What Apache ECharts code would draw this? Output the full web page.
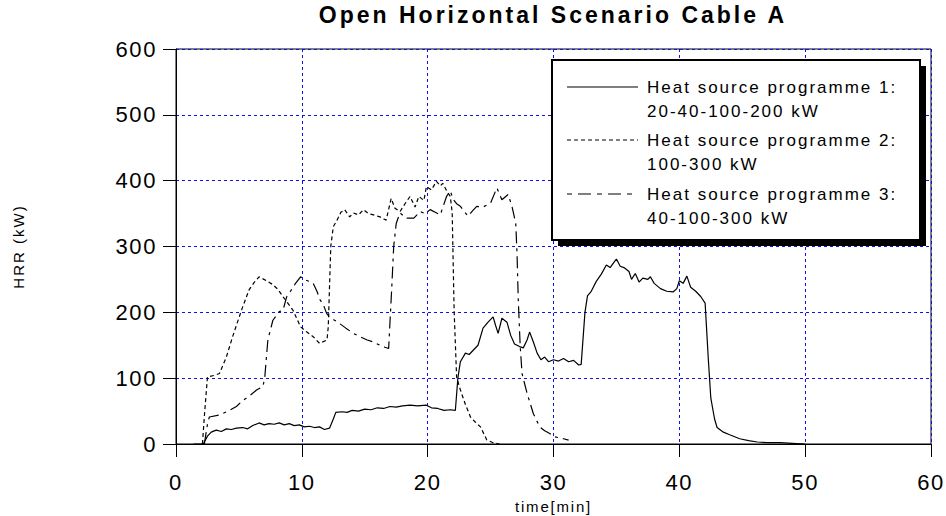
<!DOCTYPE html>
<html>
<head>
<meta charset="utf-8">
<script src="https://cdn.jsdelivr.net/npm/echarts@6/dist/echarts.min.js"></script>
<style>
  html, body { margin: 0; padding: 0; background: #fff; }
  #chart { width: 946px; height: 516px; }
</style>
</head>
<body>
<div id="chart"></div>
<script>
// Heat release rate (kW) against time (min) for three heat source programmes
const titleText = 'Open Horizontal Scenario Cable A';
const xName = 'time[min]';
const yName = 'HRR (kW)';
const xTicks = [0, 10, 20, 30, 40, 50, 60];
const yTicks = [0, 100, 200, 300, 400, 500, 600];

const seriesNames = [
  ['Heat source programme 1:', '20-40-100-200 kW'],
  ['Heat source programme 2:', '100-300 kW'],
  ['Heat source programme 3:', '40-100-300 kW']
];

// programme 1: 20-40-100-200 kW
const prog1 = [
  [1.4,0],[2.0,0],[2.2,1],[2.5,12],[2.8,18],[3.2,21],[3.6,19],[4.0,23],[4.4,22],[4.8,24],
  [5.3,25],[5.7,23],[6.1,28],[6.6,32],[7.0,29],[7.4,31],[7.8,30],[8.2,32],[8.6,29],[9.0,31],
  [9.4,28],[9.8,29],[10.2,26],[10.6,27],[11.0,25],[11.4,26],[11.8,22],[12.2,24],[12.5,38],[12.7,48],
  [13.2,49],[13.6,48],[14.0,51],[14.5,50],[15.0,53],[15.5,52],[16.0,55],[16.5,54],[17.0,57],[17.5,56],
  [18.0,58],[18.6,59],[19.2,58],[19.9,59],[20.3,55],[20.8,54],[21.3,51],[21.8,52],[22.2,51],[22.4,100],
  [22.6,125],[23.0,138],[23.3,136],[23.6,142],[24.0,150],[24.4,176],[24.8,185],[25.2,193],[25.4,180],[25.6,168],
  [25.9,191],[26.3,185],[26.6,165],[26.9,152],[27.3,148],[27.6,146],[27.9,158],[28.1,170],[28.4,155],[28.7,138],
  [29.0,128],[29.3,132],[29.6,125],[30.0,128],[30.4,126],[30.8,130],[31.2,125],[31.6,127],[32.0,120],[32.2,121],
  [32.5,200],[32.7,225],[33.0,232],[33.4,247],[33.8,258],[34.2,272],[34.5,268],[34.8,276],[35.0,281],[35.3,270],
  [35.6,268],[36.0,262],[36.2,250],[36.5,259],[36.8,246],[37.1,252],[37.5,250],[37.7,254],[38.0,244],[38.5,236],
  [39.0,232],[39.5,231],[39.8,236],[40.0,248],[40.3,244],[40.6,255],[40.9,238],[41.3,232],[41.7,224],[42.05,214],
  [42.3,130],[42.5,70],[42.8,38],[43.0,25],[43.5,18],[44.0,14],[44.8,8],[45.5,5],[46.2,3],[47.0,2],
  [48.0,2],[49.0,1],[50.0,0]
];

// programme 2: 100-300 kW
const prog2 = [
  [2.1,0],[2.25,41],[2.5,102],[3.0,104],[3.45,107],[4.0,132],[4.5,163],[5.2,203],[5.8,234],[6.2,245],
  [6.6,254],[7.2,248],[7.7,242],[8.1,235],[8.5,224],[9.3,203],[9.9,178],[10.4,170],[10.9,163],[11.4,153],
  [12.0,158],[12.1,178],[12.3,300],[12.5,330],[12.8,340],[13.1,352],[13.4,356],[13.8,345],[14.1,351],[14.5,348],
  [14.9,356],[15.3,350],[15.7,348],[16.2,345],[16.7,340],[17.1,373],[17.4,358],[17.8,353],[18.2,365],[18.6,376],
  [19.0,360],[19.3,376],[19.7,370],[19.9,391],[20.3,386],[20.7,399],[21.0,392],[21.2,396],[21.5,385],[21.8,376],
  [21.95,351],[22.1,204],[22.3,102],[22.6,82],[23.0,60],[23.4,41],[23.8,33],[24.2,26],[24.7,6],[25.2,2],
  [25.7,0]
];

// programme 3: 40-100-300 kW
const prog3 = [
  [2.25,0],[2.5,30],[2.65,41],[3.45,44],[4.25,51],[4.8,57],[5.3,66],[5.9,74],[6.4,82],[6.9,87],
  [7.05,100],[7.2,135],[7.3,158],[7.7,188],[8.2,201],[8.5,203],[8.8,224],[9.1,232],[9.5,244],[9.9,254],
  [10.3,249],[10.6,247],[10.9,244],[11.2,232],[11.45,219],[11.7,212],[11.98,198],[12.2,193],[12.6,188],[13.0,183],
  [13.5,176],[14.1,168],[14.6,163],[15.2,158],[15.7,155],[16.2,150],[16.6,147],[16.9,145],[17.0,183],[17.15,239],
  [17.3,300],[17.5,335],[17.8,351],[18.3,343],[18.9,343],[19.4,353],[19.8,350],[20.2,356],[20.6,352],[21.0,348],
  [21.5,376],[21.8,384],[22.05,371],[22.3,365],[22.6,361],[23.2,346],[23.6,355],[23.9,361],[24.4,360],[25.0,366],
  [25.5,389],[25.9,371],[26.4,379],[26.7,361],[27.0,335],[27.1,290],[27.2,219],[27.35,150],[27.5,107],[27.9,77],
  [28.4,46],[28.9,26],[29.3,20],[29.7,16],[30.1,11],[30.8,8],[31.2,6]
];

const FONT = "'Liberation Sans', Arial, sans-serif";
const dashes = ['solid', [4, 3], [12, 5, 3, 5]];
const legendDashes = [null, [4, 3], [5, 6, 13, 6]];

const chart = echarts.init(document.getElementById('chart'), null, { renderer: 'svg' });

function gridLine() {
  return { show: true, lineStyle: { color: '#0f0fe8', width: 1, type: [3, 3] } };
}

const series = [prog1, prog2, prog3].map((d, i) => ({
  name: seriesNames[i].join(' '),
  type: 'line',
  data: d,
  symbol: 'none',
  animation: false,
  lineStyle: { color: '#000', width: 1.2, type: dashes[i] },
  z: 3
}));

// legend panel: white note box with a solid drop shadow
const lgX = 552, lgY = 60, lgW = 368, lgH = 180;
const legendItems = [
  { type: 'rect', shape: { x: lgX + 6, y: lgY + 6, width: lgW, height: lgH }, style: { fill: '#000' }, z: 10 },
  { type: 'rect', shape: { x: lgX, y: lgY, width: lgW, height: lgH }, style: { fill: '#fff', stroke: '#000', lineWidth: 2 }, z: 11 }
];
const rowY = [87, 140, 194];
rowY.forEach((y, i) => {
  legendItems.push({
    type: 'line', shape: { x1: 567, y1: y, x2: 638, y2: y },
    style: { stroke: '#000', lineWidth: 1.2, lineDash: legendDashes[i] }, z: 12
  });
  legendItems.push({
    type: 'text', x: 647, y: y, z: 12,
    style: { text: seriesNames[i][0], font: '17px ' + FONT, fill: '#000', textVerticalAlign: 'middle' }
  });
  legendItems.push({
    type: 'text', x: 647, y: y + 24, z: 12,
    style: { text: seriesNames[i][1], font: '17px ' + FONT, fill: '#000', textVerticalAlign: 'middle' }
  });
});

chart.setOption({
  animation: false,
  backgroundColor: '#fff',
  grid: {
    left: 176, right: 15, top: 49, bottom: 72,
    containLabel: false, outerBoundsMode: 'none',
    show: true, borderColor: '#000', borderWidth: 1, backgroundColor: 'transparent'
  },
  xAxis: {
    type: 'value', min: xTicks[0], max: xTicks[xTicks.length - 1], interval: 10,
    name: xName, nameLocation: 'middle', nameGap: 55,
    nameTextStyle: { fontFamily: FONT, fontSize: 15, color: '#000' },
    axisLine: { show: true, lineStyle: { color: '#000', width: 1 } },
    axisTick: { show: true, inside: false, length: 13, lineStyle: { color: '#000' } },
    axisLabel: { fontFamily: FONT, fontSize: 22, color: '#000', margin: 27 },
    splitLine: gridLine()
  },
  yAxis: {
    type: 'value', min: yTicks[0], max: yTicks[yTicks.length - 1], interval: 100,
    name: yName, nameLocation: 'middle', nameGap: 150, nameRotate: 90,
    nameTextStyle: { fontFamily: FONT, fontSize: 15, color: '#000' },
    axisLine: { show: true, lineStyle: { color: '#000', width: 1 } },
    axisTick: { show: true, inside: false, length: 13, lineStyle: { color: '#000' } },
    axisLabel: { fontFamily: FONT, fontSize: 22, color: '#000', margin: 19 },
    splitLine: gridLine()
  },
  graphic: [
    {
      type: 'text', x: 553, y: 15, z: 12,
      style: { text: titleText, font: 'bold 23px ' + FONT, fill: '#000', textAlign: 'center', textVerticalAlign: 'middle' }
    }
  ].concat(legendItems),
  series: series
});

// widen the tracking of the texts
const spacing = {};
spacing[titleText] = '3px';
spacing[xName] = '1.8px';
spacing[yName] = '2px';
seriesNames.forEach(p => { spacing[p[0]] = '2px'; spacing[p[1]] = '2px'; });
xTicks.concat(yTicks).forEach(v => { spacing[String(v)] = '1.6px'; });
function applySpacing() {
  chart.getDom().querySelectorAll('text').forEach(t => {
    const s = spacing[t.textContent];
    if (s) t.setAttribute('letter-spacing', s);
  });
}
applySpacing();
requestAnimationFrame(applySpacing);
</script>
</body>
</html>
